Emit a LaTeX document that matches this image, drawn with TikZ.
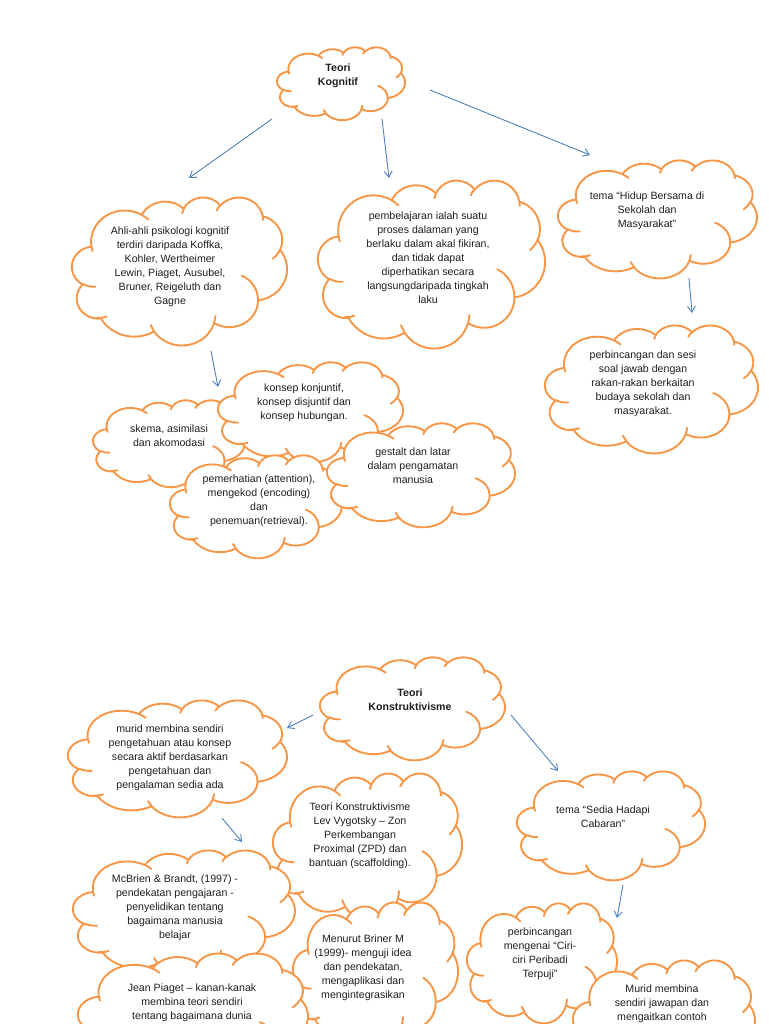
\documentclass[tikz,border=0pt]{standalone}
\usepackage{fontspec}
\setmainfont{Liberation Sans}
\usetikzlibrary{arrows.meta}
\definecolor{cloudorange}{HTML}{F79646}
\definecolor{arrowblue}{HTML}{4F81BD}

% Word-style cloud geometry in a 4320 x 4320 path space
\def\wcout{(390,1437)}
\def\wcin{}
\newcommand\wcadd[4]{%
  \pgfmathsetmacro\wcta{atan2((#1)*sin(#3),(#2)*cos(#3))}%
  \pgfmathsetmacro\wctb{atan2((#1)*sin((#3)+(#4)),(#2)*cos((#3)+(#4)))}%
  \pgfmathsetmacro\wcdd{mod(\wctb-(\wcta)+720,360)}%
  \xdef\wcout{\wcout arc[start angle=\wcta, delta angle=\wcdd, x radius=#1, y radius=#2]}}
\newcommand\wcaddin[6]{%
  \pgfmathsetmacro\wcta{atan2((#3)*sin(#5),(#4)*cos(#5))}%
  \pgfmathsetmacro\wctb{atan2((#3)*sin((#5)+(#6)),(#4)*cos((#5)+(#6)))}%
  \pgfmathsetmacro\wcdd{mod(\wctb-(\wcta)+720,360)}%
  \xdef\wcin{\wcin (#1,#2) arc[start angle=\wcta, delta angle=\wcdd, x radius=#3, y radius=#4]}}
\wcadd{675.3}{919.0}{-190.4875}{123.7805}
\wcadd{533.3}{726.7}{-144.1024}{89.9452}
\wcadd{436.5}{594.5}{-145.8079}{99.7230}
\wcadd{485.7}{659.5}{-130.9861}{117.2417}
\wcadd{533.3}{727.3}{-78.7089}{109.0269}
\wcadd{677.5}{922.0}{-46.2673}{130.2690}
\wcadd{578.5}{786.7}{0.6250}{114.0333}
\wcadd{675.2}{921.5}{22.4516}{115.1726}
\wcadd{772.0}{1054.3}{66.2426}{75.7110}
\wcadd{436.0}{591.8}{-274.9421}{146.7356}
\wcadd{434.5}{594.5}{-246.8285}{152.5189}
\wcaddin{469.3}{2617.7}{434.5}{594.5}{86.7420}{26.4295}
\wcaddin{692.8}{3489.9}{436.0}{591.8}{73.6105}{19.4155}
\wcaddin{1647.8}{3909.0}{675.2}{921.5}{137.6242}{14.0832}
\wcaddin{2882.7}{3475.1}{675.2}{921.5}{6.4533}{15.9984}
\wcaddin{3412.9}{2295.4}{578.5}{786.7}{-70.2924}{70.9174}
\wcaddin{4179.8}{1535.4}{533.3}{727.3}{30.3180}{27.7515}
\wcaddin{3832.4}{542.6}{485.7}{659.5}{-13.7443}{14.8538}
\wcaddin{2907.8}{395.2}{485.7}{659.5}{-149.1815}{18.1844}
\wcaddin{2214.1}{472.0}{436.5}{594.5}{-163.4943}{17.6964}
\wcaddin{1400.0}{519.2}{675.3}{919.0}{-66.7070}{12.3194}
\wcaddin{412.7}{1578.9}{675.3}{919.0}{157.6544}{11.8582}

% cloud: left, top, width, height (in px of the page)
\newcommand\wccloud[4]{%
  \pgfmathsetmacro\wcsx{#3/4320}%
  \pgfmathsetmacro\wcsy{#4/4320}%
  \begin{scope}[shift={(#1,#2)}, x=\wcsx pt, y=-\wcsy pt]
    \filldraw[cloudline, fill=white] \wcout -- cycle;
    \draw[cloudline] \wcin;
  \end{scope}}

\begin{document}
\begin{tikzpicture}[x=1pt, y=-1pt,
  cloudline/.style={draw=cloudorange, line width=1.9pt, line join=round, line cap=round},
  txt/.style={align=center, inner sep=0pt, font=\fontsize{10.6}{14}\selectfont, text=black!88},
  arr/.style={draw=arrowblue, line width=0.9pt, -{Straight Barb[length=6pt,width=8pt]}}]
\useasboundingbox (0,0) rectangle (768,1024);
\clip (0,0) rectangle (768,1024);
\fill[white] (0,0) rectangle (768,1024);

% ---------- Teori Kognitif ----------
\wccloud{277}{47}{128}{73}
\node[txt] (kog) at (338,76) {\textbf{Teori}\\\textbf{Kognitif}};

\wccloud{72}{197}{215}{148}
\node[txt] (ahli) at (170,267) {Ahli-ahli psikologi kognitif\\terdiri daripada Koffka,\\Kohler, Wertheimer\\Lewin, Piaget, Ausubel,\\Bruner, Reigeluth dan\\Gagne};

\wccloud{318}{180}{227}{168}
\node[txt] (pemb) at (428,258) {pembelajaran ialah suatu\\proses dalaman yang\\berlaku dalam akal fikiran,\\dan tidak dapat\\diperhatikan secara\\langsungdaripada tingkah\\laku};

\wccloud{558}{160}{199}{118}
\node[txt] (hidup) at (647,211) {tema “Hidup Bersama di\\Sekolah dan\\Masyarakat”};

\wccloud{545}{325}{213}{128}
\node[txt] (perbA) at (643,384) {perbincangan dan sesi\\soal jawab dengan\\rakan-rakan berkaitan\\budaya sekolah dan\\masyarakat.};

\wccloud{93}{400}{152}{87}
\node[txt] (skema) at (169,436) {skema, asimilasi\\dan akomodasi};

\wccloud{218}{362}{185}{100}
\node[txt] (konj) at (304,403) {konsep konjuntif,\\konsep disjuntif dan\\konsep hubungan.};

\wccloud{170}{455}{172}{103}
\node[txt] (pemer) at (259,501) {pemerhatian (attention),\\mengekod (encoding)\\dan\\penemuan(retrieval).};

\wccloud{327}{423}{188}{104}
\node[txt] (gest) at (413,466) {gestalt dan latar\\dalam pengamatan\\manusia};

% ---------- Teori Konstruktivisme ----------
\wccloud{320}{657}{185}{103}
\node[txt] (konst) at (410,700) {\textbf{Teori}\\\textbf{Konstruktivisme}};

\wccloud{68}{700}{219}{117}
\node[txt] (murid) at (170,758) {murid membina sendiri\\pengetahuan atau konsep\\secara aktif berdasarkan\\pengetahuan dan\\pengalaman sedia ada};

\wccloud{517}{771}{188}{109}
\node[txt] (sedia) at (603,817) {tema “Sedia Hadapi\\Cabaran”};

\wccloud{273}{773}{189}{147}
\node[txt] (vyg) at (360,836) {Teori Konstruktivisme\\Lev Vygotsky – Zon\\Perkembangan\\Proximal (ZPD) dan\\bantuan (scaffolding).};

\wccloud{73}{850}{222}{125}
\node[txt] (mcb) at (175,908) {McBrien \& Brandt, (1997) -\\pendekatan pengajaran -\\penyelidikan tentang\\bagaimana manusia\\belajar};

\wccloud{293}{902}{165}{143}
\node[txt] (brin) at (363,968) {Menurut Briner M\\(1999)- menguji idea\\dan pendekatan,\\mengaplikasi dan\\mengintegrasikan};

\wccloud{78}{953}{230}{130}
\node[txt] (piaget) at (192,1003) {Jean Piaget – kanan-kanak\\membina teori sendiri\\tentang bagaimana dunia};

\wccloud{467}{903}{150}{120}
\node[txt] (ciri) at (540,954) {perbincangan\\mengenai “Ciri-\\ciri Peribadi\\Terpuji”};

\wccloud{573}{960}{182}{125}
\node[txt] (muridB) at (662,1004) {Murid membina\\sendiri jawapan dan\\mengaitkan contoh};

% ---------- arrows ----------
\coordinate (a1s) at (272,119); \coordinate (a1e) at (189,178);
\coordinate (a2s) at (382,119); \coordinate (a2e) at (389,178);
\coordinate (a3s) at (430,90);  \coordinate (a3e) at (590,155);
\coordinate (a4s) at (689,278); \coordinate (a4e) at (692,313);
\coordinate (a5s) at (211,351); \coordinate (a5e) at (218,387);
\coordinate (b1s) at (313,715); \coordinate (b1e) at (287,728);
\coordinate (b2s) at (222,818); \coordinate (b2e) at (242,842);
\coordinate (b3s) at (511,715); \coordinate (b3e) at (558,771);
\coordinate (b4s) at (623,885); \coordinate (b4e) at (617,918);
\draw[arr] (a1s) -- (a1e);
\draw[arr] (a2s) -- (a2e);
\draw[arr] (a3s) -- (a3e);
\draw[arr] (a4s) -- (a4e);
\draw[arr] (a5s) -- (a5e);
\draw[arr] (b1s) -- (b1e);
\draw[arr] (b2s) -- (b2e);
\draw[arr] (b3s) -- (b3e);
\draw[arr] (b4s) -- (b4e);
\end{tikzpicture}
\end{document}
